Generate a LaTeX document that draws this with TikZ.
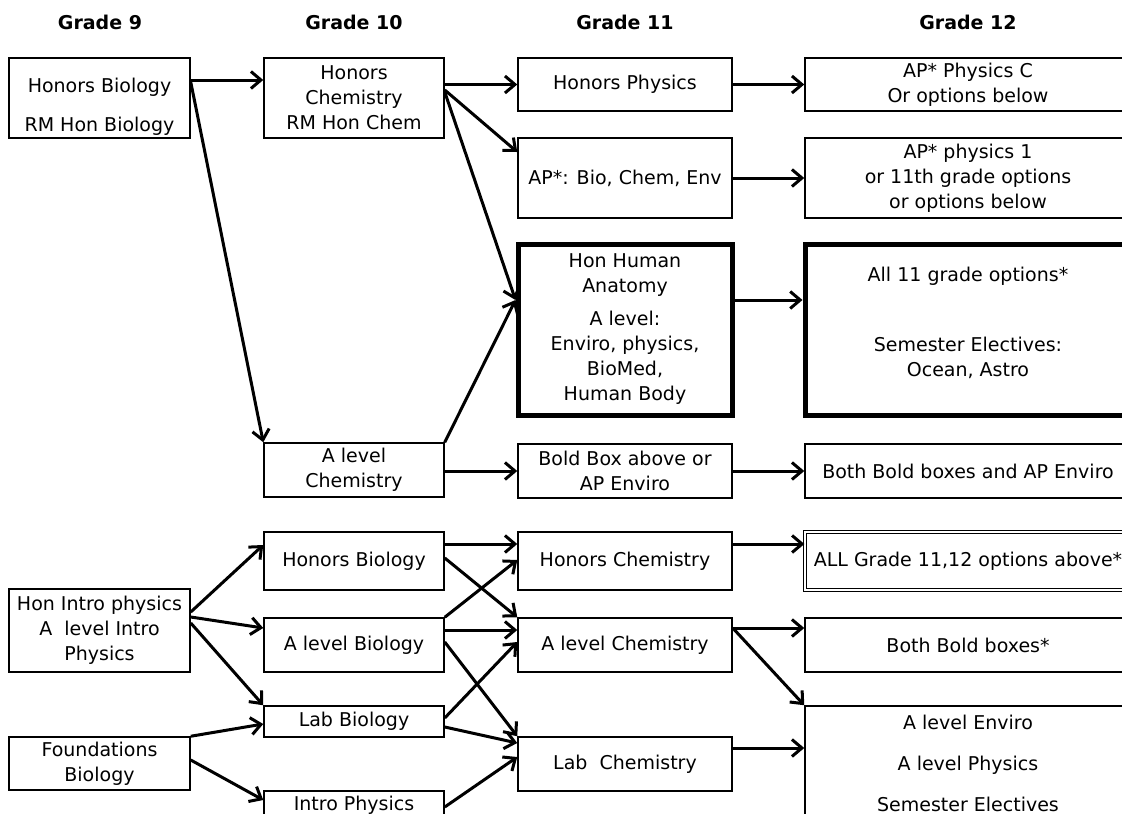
\documentclass[tikz,border=0pt]{standalone}
\usepackage{fontspec}
\setmainfont{DejaVu Sans}
\usetikzlibrary{positioning, arrows.meta}
\tikzset{
->, % every connector is directed
>={Straight Barb[length=10pt,width=17pt]}, % open arrow heads
x=1pt, y=1pt, % one unit is one pixel of the sketch
every node/.style={font=\fontsize{19}{25}\selectfont, align=center, inner sep=0pt},
course/.style={draw, line width=1.5pt}, % a plain course box
core/.style={draw, line width=5pt}, % the bold boxes
allbox/.style={draw, double, line width=1.2pt, double distance=2.5pt}, % the double box
grade/.style={font=\fontsize{19}{25}\selectfont\bfseries},
col1/.style={minimum width=181pt},
col2/.style={minimum width=180pt},
col3/.style={minimum width=214pt},
col4/.style={minimum width=326pt},
link/.style={line width=3pt},
}

\begin{document}
\begin{tikzpicture}
  \useasboundingbox (0,0) rectangle (1122,-814);

  \node[grade] (g9) at (100,-22) {Grade 9};
  \node[grade] (g10) at (354,-22) {Grade 10};
  \node[grade] (g11) at (625,-22) {Grade 11};
  \node[grade] (g12) at (968,-22) {Grade 12};

  % upper track
  \node[course, col1, minimum height=80pt] (hbio9) at (99.5,-98) {\mbox{}\\[6pt]Honors Biology\\[14pt]RM Hon Biology};
  \node[course, col2, minimum height=80pt] (hchem10) at (354,-98) {Honors\\Chemistry\\RM Hon Chem};
  \node[course, col2, minimum height=54pt] (achem10) at (354,-470) {A level\\Chemistry};
  \node[course, col3, minimum height=53pt] (hphys) at (625,-84.5) {Honors Physics};
  \node[course, col3, minimum height=80pt] (apsci) at (625,-178) {AP*: Bio, Chem, Env};
  \node[core, col3, minimum height=171pt] (anat) at (625,-329.5) {Hon Human\\Anatomy\\[8pt]A level:\\Enviro, physics,\\BioMed,\\Human Body};
  \node[course, col3, minimum height=54pt] (boldor) at (625,-471) {Bold Box above or\\AP Enviro};
  \node[course, col4, minimum height=53pt] (physc) at (968,-84.5) {AP* Physics C\\Or options below};
  \node[course, col4, minimum height=80pt] (phys1) at (968,-178) {AP* physics 1\\or 11th grade options\\or options below};
  \node[core, col4, minimum height=171pt] (all11) at (968,-329.5) {All 11 grade options*\\[45pt]Semester Electives:\\Ocean, Astro\\[-10pt]\mbox{}};
  \node[course, col4, minimum height=54pt] (bothenv) at (968,-471) {Both Bold boxes and AP Enviro};

  % lower track
  \node[course, col1, minimum height=83pt] (hintro) at (99.5,-630.5) {Hon Intro physics\\A\ \ level Intro\\Physics};
  \node[course, col1, minimum height=53pt] (found) at (99.5,-763.5) {Foundations\\Biology};
  \node[course, col2, minimum height=58pt] (hbio10) at (354,-561) {Honors Biology};
  \node[course, col2, minimum height=54pt] (abio) at (354,-645) {A level Biology};
  \node[course, col2, minimum height=31pt] (labbio) at (354,-721.5) {Lab Biology};
  \node[course, col2, minimum height=28pt] (intphys) at (354,-805) {Intro Physics};
  \node[course, col3, minimum height=58pt] (hchem11) at (625,-561) {Honors Chemistry};
  \node[course, col3, minimum height=54pt] (achem11) at (625,-645) {A level Chemistry};
  \node[course, col3, minimum height=54pt] (labchem) at (625,-764) {Lab\ \ Chemistry};
  \node[allbox, col4, minimum height=58pt] (allopt) at (968,-561) {ALL Grade 11,12 options above*};
  \node[course, col4, minimum height=54pt] (both) at (968,-645) {Both Bold boxes*};
  \node[course, col4, minimum height=114pt] (alevel) at (968,-763) {A level Enviro\\[16pt]A level Physics\\[16pt]Semester Electives};

  \path[link] ([yshift=18pt]hbio9.east) edge ([yshift=18pt]hchem10.west)
  ([yshift=16pt]hbio9.east) edge (achem10.north west)
  (hchem10.east |- hphys.west) edge (hphys.west)
  ([yshift=8pt]hchem10.east) edge ([yshift=26pt]apsci.west)
  ([yshift=6pt]hchem10.east) edge ([yshift=29.5pt]anat.west)
  (achem10.north east) edge ([yshift=29.5pt]anat.west)
  (achem10.east |- boldor.west) edge (boldor.west)
  (hphys.east) edge (physc.west)
  (apsci.east) edge (phys1.west)
  ([yshift=29.5pt]anat.east) edge ([yshift=29.5pt]all11.west)
  (boldor.east) edge (bothenv.west);

  \path[link] ([yshift=18.5pt]hintro.east) edge ([yshift=16pt]hbio10.west)
  ([yshift=13.5pt]hintro.east) edge ([yshift=17pt]abio.west)
  ([yshift=7.5pt]hintro.east) edge (labbio.north west)
  (found.north east) edge ([yshift=-2.5pt]labbio.west)
  ([yshift=3.5pt]found.east) edge ([yshift=5pt]intphys.west)
  ([yshift=17pt]hbio10.east) edge ([yshift=17pt]hchem11.west)
  ([yshift=3pt]hbio10.east) edge (achem11.north west)
  (abio.north east) edge ([yshift=1pt]hchem11.west)
  ([yshift=15pt]abio.east) edge ([yshift=15pt]achem11.west)
  ([yshift=3pt]abio.east) edge (labchem.north west)
  ([yshift=3.5pt]labbio.east) edge ([yshift=3pt]achem11.west)
  ([yshift=-5.5pt]labbio.east) edge ([yshift=21pt]labchem.west)
  ([yshift=-2pt]intphys.east) edge ([yshift=7pt]labchem.west)
  ([yshift=17pt]hchem11.east) edge ([yshift=17pt]allopt.west)
  ([yshift=17pt]achem11.east) edge ([yshift=17pt]both.west)
  ([yshift=17pt]achem11.east) edge (alevel.north west)
  ([yshift=16pt]labchem.east) edge ([yshift=15pt]alevel.west);
\end{tikzpicture}
\end{document}
